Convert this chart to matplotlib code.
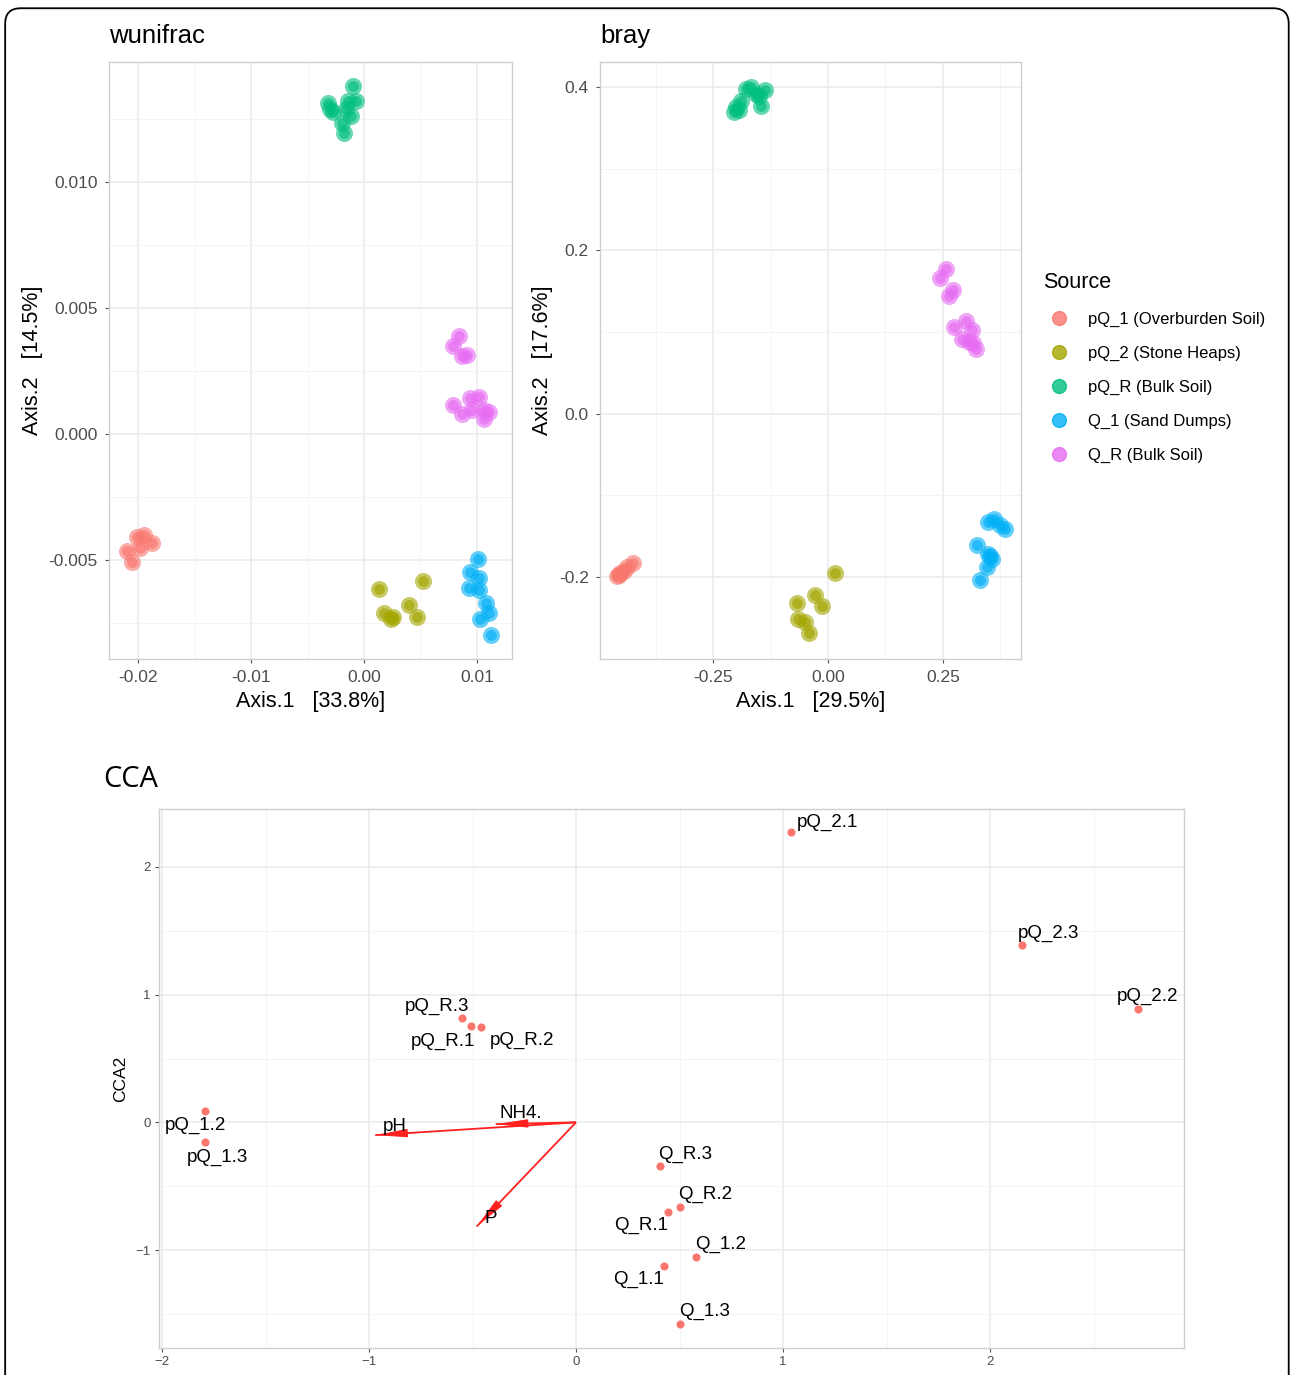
import numpy as np
import matplotlib
matplotlib.use("Agg")
import matplotlib.pyplot as plt
from matplotlib.patches import FancyBboxPatch, FancyArrowPatch
from matplotlib.lines import Line2D
from matplotlib.ticker import MultipleLocator

plt.rcParams['font.family'] = ['Liberation Sans', 'DejaVu Sans']

# group names / colours (ggplot hue palette)
groups = ["pQ_1 (Overburden Soil)", "pQ_2 (Stone Heaps)", "pQ_R (Bulk Soil)",
          "Q_1 (Sand Dumps)", "Q_R (Bulk Soil)"]
colors = ["#F8766D", "#A3A500", "#00BF7D", "#00B0F6", "#E76BF3"]

# wunifrac PCoA coordinates
wu_x = [
    [-0.02098, -0.02054, -0.0201, -0.01945, -0.01878, -0.0198],
    [0.00135, 0.00173, 0.00238, 0.00253, 0.00394, 0.00473, 0.00523],
    [-0.0032, -0.00297, -0.00276, -0.00194, -0.00179, -0.00144, -0.0010, -0.00071, -0.00115, -0.00159],
    [0.01008, 0.00934, 0.01017, 0.00929, 0.01017, 0.01076, 0.01105, 0.01031, 0.0112],
    [0.0084, 0.00788, 0.0087, 0.00914, 0.00788, 0.0087, 0.00934, 0.01017, 0.00958, 0.01061, 0.01105, 0.01061],
]
wu_y = [
    [-0.00465, -0.00507, -0.00407, -0.00401, -0.00434, -0.00452],
    [-0.00617, -0.00709, -0.00736, -0.00727, -0.00678, -0.00727, -0.00584],
    [0.01315, 0.01288, 0.01278, 0.01233, 0.01196, 0.01321, 0.01379, 0.01321, 0.0126, 0.01288],
    [-0.00498, -0.00548, -0.00571, -0.00612, -0.00621, -0.00672, -0.00709, -0.00736, -0.00797],
    [0.0039, 0.0035, 0.00308, 0.00313, 0.00115, 0.00079, 0.00143, 0.00147, 0.00097, 0.0006, 0.00088, 0.00097],
]

# bray PCoA coordinates
br_x = [
    [-0.459, -0.452, -0.444, -0.436, -0.425, -0.455],
    [-0.0676, -0.0655, -0.0494, -0.0408, -0.0279, -0.0139, 0.0161],
    [-0.205, -0.200, -0.189, -0.178, -0.167, -0.157, -0.146, -0.137, -0.151, -0.194],
    [0.3476, 0.3616, 0.3745, 0.3852, 0.324, 0.3476, 0.3562, 0.3455, 0.3315, 0.352],
    [0.2436, 0.2575, 0.264, 0.2725, 0.2747, 0.2994, 0.3133, 0.2908, 0.3069, 0.3208, 0.3155],
]
br_y = [
    [-0.199, -0.195, -0.192, -0.188, -0.183, -0.197],
    [-0.2317, -0.2508, -0.2553, -0.2683, -0.2216, -0.2357, -0.1952],
    [0.369, 0.375, 0.383, 0.397, 0.400, 0.391, 0.377, 0.396, 0.389, 0.372],
    [-0.1327, -0.1288, -0.1361, -0.1417, -0.1603, -0.1721, -0.1783, -0.1879, -0.203, -0.1738],
    [0.1665, 0.1777, 0.144, 0.1513, 0.1063, 0.113, 0.1029, 0.0917, 0.0877, 0.0793, 0.086],
]

# CCA sample scores
cca_names = ["pQ_2.1", "pQ_2.3", "pQ_2.2", "pQ_R.3", "pQ_R.1", "pQ_R.2", "pQ_1.2", "pQ_1.3",
             "Q_R.3", "Q_R.2", "Q_R.1", "Q_1.2", "Q_1.1", "Q_1.3"]
cca_x = [1.039, 2.155, 2.715, -0.551, -0.507, -0.459, -1.792, -1.792,
         0.406, 0.502, 0.444, 0.580, 0.425, 0.502]
cca_y = [2.271, 1.386, 0.885, 0.814, 0.752, 0.744, 0.086, -0.157,
         -0.345, -0.666, -0.705, -1.057, -1.128, -1.582]
lab_x = [1.217, 2.280, 2.763, -0.671, -0.643, -0.261, -1.836, -1.734,
         0.527, 0.623, 0.314, 0.700, 0.300, 0.623]
lab_y = [2.349, 1.480, 0.987, 0.908, 0.634, 0.642, -0.023, -0.274,
         -0.251, -0.564, -0.807, -0.955, -1.229, -1.480]

# environmental vectors
env_names = ["pH", "NH4.", "P"]
env_x = [-0.970, -0.388, -0.480]
env_y = [-0.100, -0.014, -0.816]
env_lab_x = [-0.877, -0.268, -0.412]
env_lab_y = [-0.030, 0.072, -0.750]

fig = plt.figure(figsize=(12.9, 13.75), dpi=100)

# rounded frame around the figure
frame = FancyBboxPatch((0.004, -0.05), 0.995, 1.044, boxstyle="round,pad=0,rounding_size=0.012",
                       transform=fig.transFigure, fill=False, edgecolor="black", lw=1.3,
                       mutation_aspect=1290 / 1375)
fig.patches.append(frame)


def style_axes(ax, xmaj, ymaj, tick_size, pad=3):
    ax.xaxis.set_major_locator(MultipleLocator(xmaj))
    ax.yaxis.set_major_locator(MultipleLocator(ymaj))
    ax.xaxis.set_minor_locator(MultipleLocator(xmaj / 2))
    ax.yaxis.set_minor_locator(MultipleLocator(ymaj / 2))
    ax.grid(which="major", color="#EBEBEB", lw=1.1)
    ax.grid(which="minor", color="#F4F4F4", lw=0.7)
    ax.set_axisbelow(True)
    for s in ax.spines.values():
        s.set_color("#CFCFCF")
        s.set_linewidth(1.0)
    ax.tick_params(which="major", length=3, width=0.8, color="#555555",
                   labelsize=tick_size, labelcolor="#4D4D4D", pad=pad)
    ax.tick_params(which="minor", length=0)


def draw_pcoa(ax, xs, ys):
    for gx, gy, c in zip(xs, ys, colors):
        ax.scatter(gx, gy, s=150, color=c, alpha=0.6, lw=0, zorder=3)
        ax.scatter(gx, gy, s=60, color=c, alpha=0.65, lw=0, zorder=4)


# wunifrac
ax1 = fig.add_axes([109 / 1290, 1 - 659 / 1375, 403 / 1290, 597 / 1375])
draw_pcoa(ax1, wu_x, wu_y)
ax1.set_xlim(-0.02257, 0.0131)
ax1.set_ylim(-0.00893, 0.01476)
style_axes(ax1, 0.01, 0.005, 12.5, pad=5)
ax1.yaxis.set_major_formatter(matplotlib.ticker.FormatStrFormatter("%.3f"))
ax1.xaxis.set_major_formatter(matplotlib.ticker.FuncFormatter(
    lambda v, p: "0.00" if abs(v) < 1e-9 else "%g" % v))
ax1.set_xlabel("Axis.1   [33.8%]", fontsize=15.5, labelpad=4)
ax1.set_ylabel("Axis.2   [14.5%]", fontsize=15.5, labelpad=4)
ax1.set_title("wunifrac", fontsize=18.5, loc="left", pad=14)

# bray
ax2 = fig.add_axes([600 / 1290, 1 - 659 / 1375, 421 / 1290, 597 / 1375])
draw_pcoa(ax2, br_x, br_y)
ax2.set_xlim(-0.4957, 0.4196)
ax2.set_ylim(-0.3003, 0.4306)
style_axes(ax2, 0.25, 0.2, 12.5, pad=5)
ax2.xaxis.set_major_formatter(matplotlib.ticker.FormatStrFormatter("%.2f"))
ax2.yaxis.set_major_formatter(matplotlib.ticker.FormatStrFormatter("%.1f"))
ax2.set_xlabel("Axis.1   [29.5%]", fontsize=15.5, labelpad=4)
ax2.set_ylabel("Axis.2   [17.6%]", fontsize=15.5, labelpad=4)
ax2.set_title("bray", fontsize=18.5, loc="left", pad=14)

handles = [Line2D([], [], marker="o", ls="", markersize=10, markerfacecolor=c,
                  markeredgecolor=c, alpha=0.8) for c in colors]
leg = fig.legend(handles, groups, title="Source", loc="upper left",
                 bbox_to_anchor=(1036 / 1290, 1 - 265 / 1375), frameon=False,
                 fontsize=12, title_fontsize=15.5, handletextpad=0.7,
                 labelspacing=1.13, borderaxespad=0)
leg._legend_box.align = "left"

# CCA
ax3 = fig.add_axes([159 / 1290, 1 - 1348 / 1375, 1025 / 1290, 539 / 1375])
ax3.set_xlim(-2.0145, 2.937)
ax3.set_ylim(-1.767, 2.454)
style_axes(ax3, 1, 1, 9.5)
ax3.scatter(cca_x, cca_y, s=34, color="#F8766D", lw=0, zorder=4)
for n, tx, ty in zip(cca_names, lab_x, lab_y):
    ax3.text(tx, ty, n, fontsize=13.5, ha="center", va="center", color="black", zorder=5)
for n, ex, ey, tx, ty in zip(env_names, env_x, env_y, env_lab_x, env_lab_y):
    # full vector line, then a narrow head at its tip
    ax3.plot([0, ex], [0, ey], color="#FF2020", lw=1.3, zorder=3, solid_capstyle="butt")
    arr = FancyArrowPatch((0.8 * ex, 0.8 * ey), (ex, ey),
                          arrowstyle="-|>,head_length=1.0,head_width=0.13",
                          mutation_scale=20, color="#FF2020", lw=0.8, zorder=3,
                          shrinkA=0, shrinkB=0)
    ax3.add_patch(arr)
    ax3.text(tx, ty, n, fontsize=13.5, ha="center", va="center", color="black", zorder=5)
ax3.set_ylabel("CCA2", fontsize=12.5, labelpad=5)
ax3.set_title("CCA", fontsize=21, loc="left", pad=16, x=-0.054, family="Open Sans")

fig.savefig("out.png", dpi=100)
